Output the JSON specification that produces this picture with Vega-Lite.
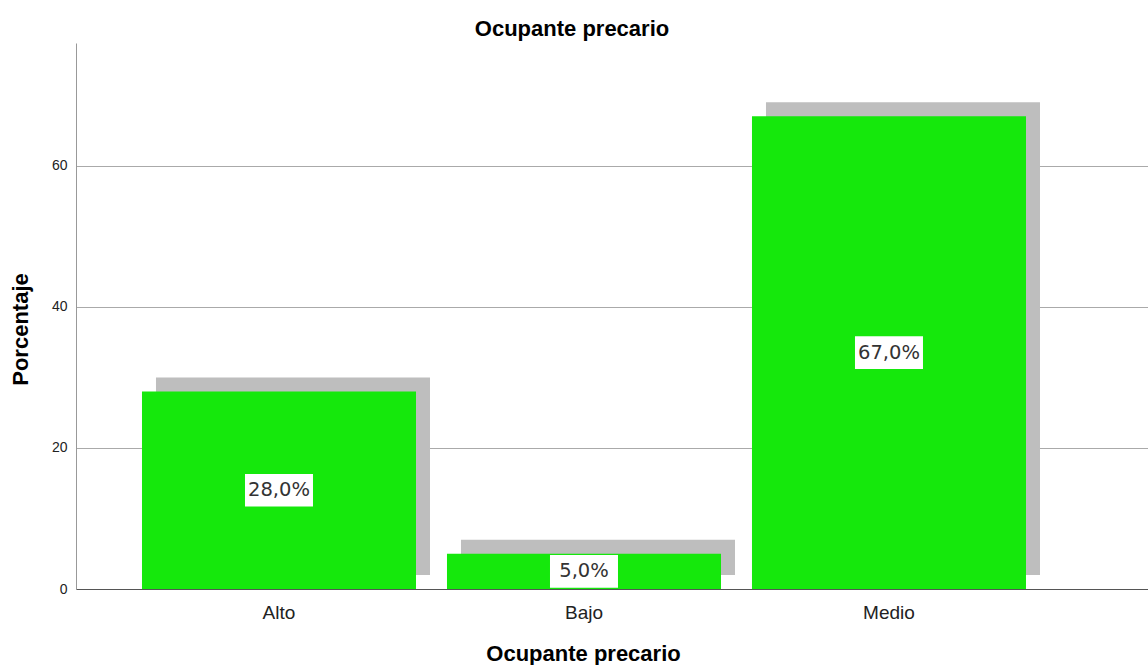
{
  "$schema": "https://vega.github.io/schema/vega-lite/v6.json",
  "width": 1072,
  "height": 546,
  "autosize": "none",
  "padding": {"left": 76, "top": 43, "right": 0, "bottom": 76},
  "background": "white",
  "config": {"view": {"stroke": null}, "font": "Liberation Sans"},
  "title": {
    "text": "Ocupante precario",
    "anchor": "middle",
    "frame": "group",
    "dx": -40,
    "dy": 23,
    "offset": 8,
    "baseline": "alphabetic",
    "font": "Liberation Sans",
    "fontSize": 22,
    "fontWeight": "bold",
    "color": "#000000"
  },
  "data": {
    "values": [
      {"categoria": "Alto", "porcentaje": 28.0, "etiqueta": "28,0%"},
      {"categoria": "Bajo", "porcentaje": 5.0, "etiqueta": "5,0%"},
      {"categoria": "Medio", "porcentaje": 67.0, "etiqueta": "67,0%"}
    ]
  },
  "encoding": {
    "x": {
      "field": "categoria",
      "type": "nominal",
      "sort": ["Alto", "Bajo", "Medio"],
      "scale": {"paddingInner": 0.1016, "paddingOuter": 0.3082, "align": 0.351},
      "axis": {
        "title": "Ocupante precario",
        "titleFont": "Liberation Sans",
        "titleFontSize": 22,
        "titleFontWeight": "bold",
        "titleColor": "#000000",
        "titleX": 507,
        "titleY": 71,
        "titleBaseline": "alphabetic",
        "titleAlign": "center",
        "labelAngle": 0,
        "labelFont": "Liberation Sans",
        "labelFontSize": 19,
        "labelColor": "#222222",
        "labelBaseline": "alphabetic",
        "labelPadding": 29,
        "ticks": false,
        "tickSize": 0,
        "domainColor": "#555555",
        "domainWidth": 1,
        "grid": false
      }
    }
  },
  "layer": [
    {
      "mark": {"type": "bar", "color": "#bebebe", "xOffset": 14, "x2Offset": 14, "yOffset": -14, "y2Offset": -14},
      "encoding": {
        "y": {
          "field": "porcentaje",
          "type": "quantitative",
          "scale": {"domain": [0, 77.4], "nice": false, "zero": true},
          "axis": {
            "title": "Porcentaje",
            "titleFont": "Liberation Sans",
            "titleFontSize": 22,
            "titleFontWeight": "bold",
            "titleColor": "#000000",
            "titleAngle": -90,
            "titleX": -49,
            "titleY": 286,
            "titleAlign": "center",
            "titleBaseline": "alphabetic",
            "values": [0, 20, 40, 60],
            "labelFont": "Liberation Sans",
            "labelFontSize": 14,
            "labelColor": "#222222",
            "labelPadding": 9,
            "ticks": false,
            "tickSize": 0,
            "domainColor": "#999999",
            "grid": true,
            "gridColor": "#aaaaaa",
            "gridWidth": 1
          }
        }
      }
    },
    {
      "mark": {"type": "bar", "color": "#15e80c"},
      "encoding": {
        "y": {
          "field": "porcentaje",
          "type": "quantitative",
          "scale": {"domain": [0, 77.4], "nice": false, "zero": true},
          "axis": null
        }
      }
    },
    {
      "mark": {"type": "point", "shape": "M-1,-0.48H1V0.48H-1Z", "filled": true, "color": "white", "opacity": 1, "size": 4624},
      "encoding": {
        "y": {
          "field": "porcentaje",
          "type": "quantitative",
          "scale": {"domain": [0, 154.8], "nice": false, "zero": true},
          "axis": null
        }
      }
    },
    {
      "mark": {"type": "text", "font": "DejaVu Sans", "fontSize": 19.5, "color": "#333333", "baseline": "middle", "align": "center"},
      "encoding": {
        "y": {
          "field": "porcentaje",
          "type": "quantitative",
          "scale": {"domain": [0, 154.8], "nice": false, "zero": true},
          "axis": null
        },
        "text": {"field": "etiqueta", "type": "nominal"}
      }
    }
  ],
  "resolve": {"scale": {"y": "independent"}}
}
